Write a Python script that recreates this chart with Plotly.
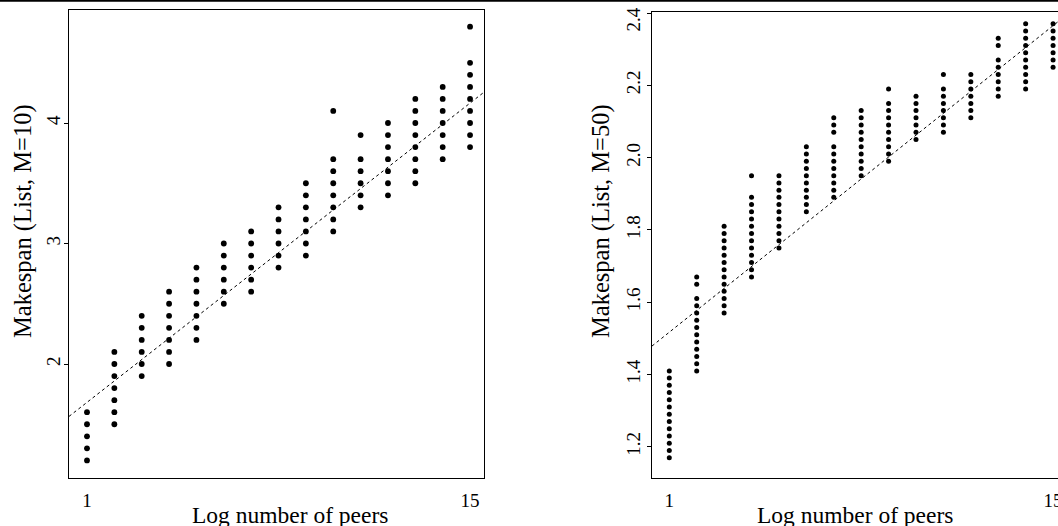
import plotly.graph_objects as go

# ---------------- data ----------------
peers = [1, 2, 3, 4, 5, 6, 7, 8, 9, 10, 11, 12, 13, 14, 15]

makespan_m10 = [
    [1.2, 1.3, 1.4, 1.5, 1.6],
    [1.5, 1.6, 1.7, 1.8, 1.9, 2.0, 2.1],
    [1.9, 2.0, 2.1, 2.2, 2.3, 2.4],
    [2.0, 2.1, 2.2, 2.3, 2.4, 2.5, 2.6],
    [2.2, 2.3, 2.4, 2.5, 2.6, 2.7, 2.8],
    [2.5, 2.6, 2.7, 2.8, 2.9, 3.0],
    [2.6, 2.7, 2.8, 2.9, 3.0, 3.1],
    [2.8, 2.9, 3.0, 3.1, 3.2, 3.3],
    [2.9, 3.0, 3.1, 3.2, 3.3, 3.4, 3.5],
    [3.1, 3.2, 3.3, 3.4, 3.5, 3.6, 3.7, 4.1],
    [3.3, 3.4, 3.5, 3.6, 3.7, 3.9],
    [3.4, 3.5, 3.6, 3.7, 3.8, 3.9, 4.0],
    [3.5, 3.6, 3.7, 3.8, 3.9, 4.0, 4.1, 4.2],
    [3.7, 3.8, 3.9, 4.0, 4.1, 4.2, 4.3],
    [3.8, 3.9, 4.0, 4.1, 4.2, 4.3, 4.4, 4.5, 4.8],
]

makespan_m50 = [
    [1.17, 1.19, 1.21, 1.23, 1.25, 1.27, 1.29, 1.31, 1.33, 1.35, 1.37, 1.39, 1.41],
    [1.41, 1.43, 1.45, 1.47, 1.49, 1.51, 1.53, 1.55, 1.57, 1.59, 1.61, 1.65, 1.67],
    [1.57, 1.59, 1.61, 1.63, 1.65, 1.67, 1.69, 1.71, 1.73, 1.75, 1.77, 1.79, 1.81],
    [1.67, 1.69, 1.71, 1.73, 1.75, 1.77, 1.79, 1.81, 1.83, 1.85, 1.87, 1.89, 1.95],
    [1.75, 1.77, 1.79, 1.81, 1.83, 1.85, 1.87, 1.89, 1.91, 1.93, 1.95],
    [1.85, 1.87, 1.89, 1.91, 1.93, 1.95, 1.97, 1.99, 2.01, 2.03],
    [1.89, 1.91, 1.93, 1.95, 1.97, 1.99, 2.01, 2.03, 2.07, 2.09, 2.11],
    [1.95, 1.97, 1.99, 2.01, 2.03, 2.05, 2.07, 2.09, 2.11, 2.13],
    [1.99, 2.01, 2.03, 2.05, 2.07, 2.09, 2.11, 2.13, 2.15, 2.19],
    [2.05, 2.07, 2.09, 2.11, 2.13, 2.15, 2.17],
    [2.07, 2.09, 2.11, 2.13, 2.15, 2.17, 2.19, 2.23],
    [2.11, 2.13, 2.15, 2.17, 2.19, 2.21, 2.23],
    [2.17, 2.19, 2.21, 2.23, 2.25, 2.27, 2.31, 2.33],
    [2.19, 2.21, 2.23, 2.25, 2.27, 2.29, 2.31, 2.33, 2.35, 2.37],
    [2.25, 2.27, 2.29, 2.31, 2.33, 2.35, 2.37],
]

# fitted regression lines (intercept, slope)
fit_m10 = (1.5045, 0.1774)
fit_m50 = (1.4564, 0.06057)

x_ticks = [1, 15]
y_ticks_m10 = [2, 3, 4]
y_ticks_m50 = [1.2, 1.4, 1.6, 1.8, 2.0, 2.2, 2.4]
# the top label is nudged inward (as in the reference) with trailing no-break spaces
y_ticktext_m50 = ["1.2", "1.4", "1.6", "1.8", "2.0", "2.2", "2.4\u00a0\u00a0\u00a0\u00a0"]

x_title = "Log number of peers"
y_title_m10 = "Makespan (List, M=10)"
y_title_m50 = "Makespan (List, M=50)"

# ---------------- layout geometry ----------------
W, H = 1058, 526
FONT = "Liberation Serif"


def fx(p):
    return p / W


def fy(p):
    return 1 - p / H


x_range_l = [0.342, 15.51]
y_range_l = [1.054, 4.938]
x_range_r = [0.369, 15.18]
y_range_r = [1.1137, 2.4036]

fig = go.Figure()

# scatter points
xs, ys = [], []
for p, vals in zip(peers, makespan_m10):
    xs += [p] * len(vals)
    ys += vals
fig.add_trace(go.Scatter(x=xs, y=ys, mode="markers",
                         marker=dict(color="black", size=5.8, line=dict(width=0)),
                         xaxis="x", yaxis="y", showlegend=False))

xs, ys = [], []
for p, vals in zip(peers, makespan_m50):
    xs += [p] * len(vals)
    ys += vals
fig.add_trace(go.Scatter(x=xs, y=ys, mode="markers",
                         marker=dict(color="black", size=5.0, line=dict(width=0)),
                         xaxis="x2", yaxis="y2", showlegend=False))

# regression lines
for (a, b), xr, xa, ya in [(fit_m10, x_range_l, "x", "y"), (fit_m50, x_range_r, "x2", "y2")]:
    lx = [xr[0], xr[1]]
    ly = [a + b * v for v in lx]
    fig.add_trace(go.Scatter(x=lx, y=ly, mode="lines",
                             line=dict(color="black", width=1, dash="3px,3px"),
                             xaxis=xa, yaxis=ya, showlegend=False))

axis_common = dict(showgrid=False, zeroline=False, showline=True, linecolor="black",
                   linewidth=1, automargin=False, ticklabeloverflow="allow",
                   tickfont=dict(family=FONT, size=19, color="black"))

fig.update_layout(
    width=W, height=H,
    margin=dict(l=0, r=0, t=0, b=0),
    paper_bgcolor="white", plot_bgcolor="white",
    template="none",
    xaxis=dict(domain=[fx(69), fx(484)], range=x_range_l, anchor="y", mirror=True,
               ticks="", tickvals=x_ticks, ticktext=[str(t) for t in x_ticks],
               ticklabelstandoff=5, **axis_common),
    yaxis=dict(domain=[fy(478), fy(10)], range=y_range_l, anchor="x", mirror=True,
               ticks="outside", ticklen=4, tickcolor="black", tickvals=y_ticks_m10,
               ticktext=[str(t) for t in y_ticks_m10], tickangle=-90,
               ticklabelstandoff=-4, **axis_common),
    xaxis2=dict(domain=[fx(652), 1.0], range=x_range_r, anchor="y2", mirror=True,
                ticks="", tickvals=x_ticks, ticktext=[str(t) for t in x_ticks],
                ticklabelstandoff=5, **axis_common),
    yaxis2=dict(domain=[fy(478), fy(11.7)], range=y_range_r, anchor="x2", mirror=False,
                ticks="outside", ticklen=4, tickcolor="black", tickvals=y_ticks_m50,
                ticktext=y_ticktext_m50, tickangle=-90,
                ticklabelstandoff=-1, **axis_common),
)

x_title_font = dict(family=FONT, size=23.5, color="black")
y_title_font = dict(family=FONT, size=24.5, color="black")
annotations = [
    dict(text=x_title, x=fx(290), y=fy(515), xref="paper", yref="paper",
         showarrow=False, xanchor="center", yanchor="middle", font=x_title_font),
    dict(text=x_title, x=fx(855), y=fy(515), xref="paper", yref="paper",
         showarrow=False, xanchor="center", yanchor="middle", font=x_title_font),
    dict(text=y_title_m10, x=fx(23), y=fy(221), xref="paper", yref="paper",
         showarrow=False, xanchor="center", yanchor="middle", textangle=-90, font=y_title_font),
    dict(text=y_title_m50, x=fx(601), y=fy(221), xref="paper", yref="paper",
         showarrow=False, xanchor="center", yanchor="middle", textangle=-90, font=y_title_font),
]
fig.update_layout(annotations=annotations)

# thin black border line at the very top of the picture
fig.add_shape(type="line", xref="paper", yref="paper", x0=0, x1=1, y0=fy(0.9), y1=fy(0.9),
              line=dict(color="black", width=1.8))

fig.write_html(
    "out.html",
    config={"displayModeBar": False},
    post_script="document.body.style.margin='0';document.body.style.overflow='hidden';",
)
